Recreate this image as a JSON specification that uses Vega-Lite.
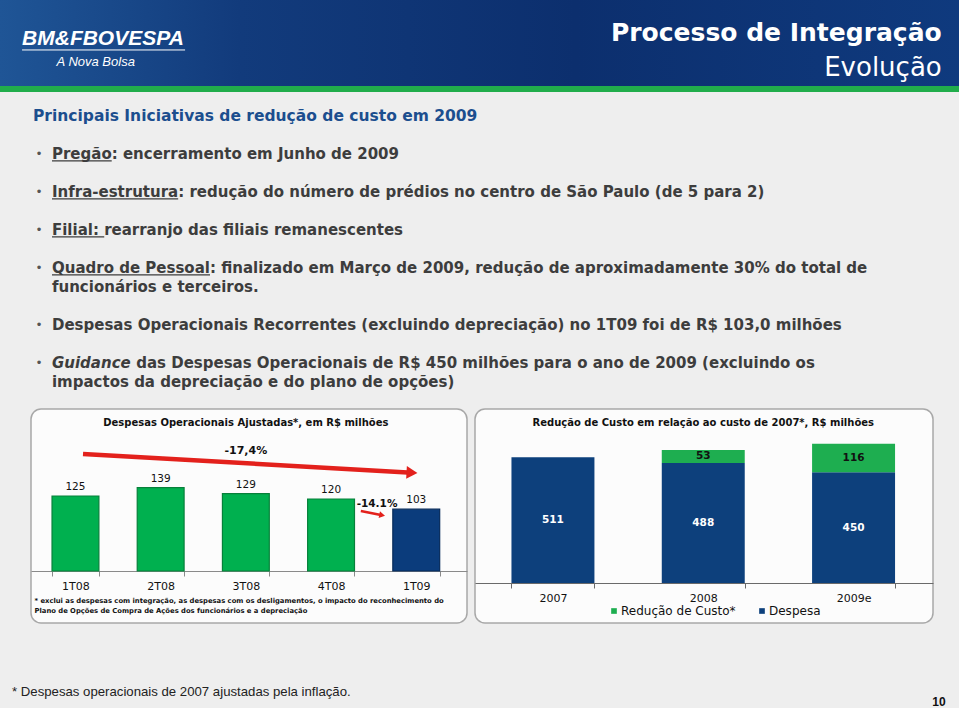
{
  "$schema": "https://vega.github.io/schema/vega-lite/v6.json",
  "background": "#eeeeee",
  "padding": 0,
  "spacing": 0,
  "config": {"view": {"stroke": null}, "font": "DejaVu Sans"},
  "vconcat": [
    {
      "width": 959, "height": 86,
      "view": {"fill": {"gradient": "linear", "x1": 0, "y1": 0, "x2": 1, "y2": 0, "stops": [{"offset": 0, "color": "#1f5596"}, {"offset": 0.25, "color": "#123b7c"}, {"offset": 0.6, "color": "#0c2f6e"}, {"offset": 1, "color": "#0f3a7e"}]}},
      "layer": [
        {"data": {"values": [{"t": "Processo de Integração"}]},
         "mark": {"type": "text", "font": "DejaVu Sans", "fontSize": 25, "fontWeight": "bold", "color": "#ffffff", "align": "right", "baseline": "alphabetic"},
         "encoding": {"x": {"datum": 98.2, "type": "quantitative", "scale": {"domain": [0, 100], "nice": false, "zero": false}, "axis": null},
                      "y": {"datum": 47.7, "type": "quantitative", "scale": {"domain": [0, 100], "nice": false, "zero": false, "reverse": true}, "axis": null},
                      "text": {"field": "t"}}},
        {"data": {"values": [{"t": "Evolução"}]},
         "mark": {"type": "text", "font": "DejaVu Sans", "fontSize": 26, "color": "#ffffff", "align": "right", "baseline": "alphabetic"},
         "encoding": {"x": {"datum": 98.2, "type": "quantitative", "scale": {"domain": [0, 100], "nice": false, "zero": false}, "axis": null},
                      "y": {"datum": 88.4, "type": "quantitative", "scale": {"domain": [0, 100], "nice": false, "zero": false, "reverse": true}, "axis": null},
                      "text": {"field": "t"}}},
        {"data": {"values": [{"t": "BM&FBOVESPA"}]},
         "mark": {"type": "text", "font": "Liberation Sans", "fontSize": 21, "fontWeight": "bold", "fontStyle": "italic", "color": "#ffffff", "align": "left", "baseline": "alphabetic"},
         "encoding": {"x": {"datum": 2.3, "type": "quantitative", "scale": {"domain": [0, 100], "nice": false, "zero": false}, "axis": null},
                      "y": {"datum": 52.3, "type": "quantitative", "scale": {"domain": [0, 100], "nice": false, "zero": false, "reverse": true}, "axis": null},
                      "text": {"field": "t"}}},
        {"data": {"values": [{"t": "A Nova Bolsa"}]},
         "mark": {"type": "text", "font": "Liberation Sans", "fontSize": 13, "fontStyle": "italic", "color": "#ffffff", "align": "left", "baseline": "alphabetic"},
         "encoding": {"x": {"datum": 5.9, "type": "quantitative", "scale": {"domain": [0, 100], "nice": false, "zero": false}, "axis": null},
                      "y": {"datum": 76.7, "type": "quantitative", "scale": {"domain": [0, 100], "nice": false, "zero": false, "reverse": true}, "axis": null},
                      "text": {"field": "t"}}},
        {"data": {"values": [{"t": "logo"}]},
         "mark": {"type": "rule", "color": "#ffffff", "strokeWidth": 1},
         "encoding": {"x": {"datum": 2.3, "type": "quantitative", "scale": {"domain": [0, 100], "nice": false, "zero": false}, "axis": null},
                      "x2": {"datum": 19.3},
                      "y": {"datum": 58.1, "type": "quantitative", "scale": {"domain": [0, 100], "nice": false, "zero": false, "reverse": true}, "axis": null}}}
      ]
    },
    {
      "width": 959, "height": 6,
      "view": {"fill": "#21ad4b"},
      "data": {"values": []},
      "mark": "point"
    },
    {
      "width": 959, "height": 316,
      "layer": [
        {"data": {"values": [{"t": "Principais Iniciativas de redução de custo em 2009"}]},
         "mark": {"type": "text", "fontSize": 15.5, "fontWeight": "bold", "color": "#1c4e8e", "align": "left", "baseline": "middle"},
         "encoding": {"x": {"datum": 3.44, "type": "quantitative", "scale": {"domain": [0, 100], "nice": false, "zero": false}, "axis": null},
                      "y": {"datum": 0, "type": "quantitative", "scale": {"domain": [-1.263, 15.368], "nice": false, "zero": false, "reverse": true}, "axis": null},
                      "text": {"field": "t"}}},
        {"data": {"values": [{"k": 2}, {"k": 4}, {"k": 6}, {"k": 8}, {"k": 11}, {"k": 13}]},
         "mark": {"type": "text", "fontSize": 12, "color": "#555555", "align": "center", "baseline": "middle", "text": "•"},
         "encoding": {"x": {"datum": 4.07, "type": "quantitative", "scale": {"domain": [0, 100], "nice": false, "zero": false}, "axis": null},
                      "y": {"field": "k", "type": "quantitative", "scale": {"domain": [-1.263, 15.368], "nice": false, "zero": false, "reverse": true}, "axis": null}}},
        {"data": {"values": [
            {"k": 2, "t": "Pregão: encerramento em Junho de 2009"},
            {"k": 4, "t": "Infra-estrutura: redução do número de prédios no centro de São Paulo (de 5 para 2)"},
            {"k": 6, "t": "Filial:  rearranjo das filiais remanescentes"},
            {"k": 8, "t": "Quadro de Pessoal: finalizado em Março de 2009, redução de aproximadamente 30%  do total de"},
            {"k": 9, "t": "funcionários e terceiros."},
            {"k": 11, "t": "Despesas Operacionais Recorrentes (excluindo depreciação) no 1T09 foi de R$ 103,0 milhões"},
            {"k": 14, "t": "impactos da depreciação e do plano de opções)"}
          ]},
         "mark": {"type": "text", "fontSize": 15, "fontWeight": "bold", "color": "#3d3d3d", "align": "left", "baseline": "middle"},
         "encoding": {"x": {"datum": 5.42, "type": "quantitative", "scale": {"domain": [0, 100], "nice": false, "zero": false}, "axis": null},
                      "y": {"field": "k", "type": "quantitative", "scale": {"domain": [-1.263, 15.368], "nice": false, "zero": false, "reverse": true}, "axis": null},
                      "text": {"field": "t"}}},
        {"data": {"values": [{"k": 13, "t": "Guidance"}]},
         "mark": {"type": "text", "fontSize": 15, "fontWeight": "bold", "fontStyle": "italic", "color": "#3d3d3d", "align": "left", "baseline": "middle"},
         "encoding": {"x": {"datum": 5.42, "type": "quantitative", "scale": {"domain": [0, 100], "nice": false, "zero": false}, "axis": null},
                      "y": {"field": "k", "type": "quantitative", "scale": {"domain": [-1.263, 15.368], "nice": false, "zero": false, "reverse": true}, "axis": null},
                      "text": {"field": "t"}}},
        {"data": {"values": [{"k": 13, "t": "das Despesas Operacionais de R$ 450 milhões para o ano de 2009 (excluindo os"}]},
         "mark": {"type": "text", "fontSize": 15, "fontWeight": "bold", "color": "#3d3d3d", "align": "left", "baseline": "middle"},
         "encoding": {"x": {"datum": 14.2, "type": "quantitative", "scale": {"domain": [0, 100], "nice": false, "zero": false}, "axis": null},
                      "y": {"field": "k", "type": "quantitative", "scale": {"domain": [-1.263, 15.368], "nice": false, "zero": false, "reverse": true}, "axis": null},
                      "text": {"field": "t"}}},
        {"data": {"values": [{"u": "Pregão"}]},
         "mark": {"type": "rule", "color": "#3d3d3d", "strokeWidth": 1.2},
         "encoding": {"x": {"datum": 5.42, "type": "quantitative", "scale": {"domain": [0, 100], "nice": false, "zero": false}, "axis": null},
                      "x2": {"datum": 11.65},
                      "y": {"datum": 2.36, "type": "quantitative", "scale": {"domain": [-1.263, 15.368], "nice": false, "zero": false, "reverse": true}, "axis": null}}},
        {"data": {"values": [{"u": "Infra-estrutura"}]},
         "mark": {"type": "rule", "color": "#3d3d3d", "strokeWidth": 1.2},
         "encoding": {"x": {"datum": 5.42, "type": "quantitative", "scale": {"domain": [0, 100], "nice": false, "zero": false}, "axis": null},
                      "x2": {"datum": 18.58},
                      "y": {"datum": 4.36, "type": "quantitative", "scale": {"domain": [-1.263, 15.368], "nice": false, "zero": false, "reverse": true}, "axis": null}}},
        {"data": {"values": [{"u": "Filial"}]},
         "mark": {"type": "rule", "color": "#3d3d3d", "strokeWidth": 1.2},
         "encoding": {"x": {"datum": 5.42, "type": "quantitative", "scale": {"domain": [0, 100], "nice": false, "zero": false}, "axis": null},
                      "x2": {"datum": 10.87},
                      "y": {"datum": 6.36, "type": "quantitative", "scale": {"domain": [-1.263, 15.368], "nice": false, "zero": false, "reverse": true}, "axis": null}}},
        {"data": {"values": [{"u": "Quadro de Pessoal"}]},
         "mark": {"type": "rule", "color": "#3d3d3d", "strokeWidth": 1.2},
         "encoding": {"x": {"datum": 5.42, "type": "quantitative", "scale": {"domain": [0, 100], "nice": false, "zero": false}, "axis": null},
                      "x2": {"datum": 21.9},
                      "y": {"datum": 8.36, "type": "quantitative", "scale": {"domain": [-1.263, 15.368], "nice": false, "zero": false, "reverse": true}, "axis": null}}}
      ]
    },
    {
      "spacing": 6,
      "hconcat": [
        {"width": 24, "height": 214, "data": {"values": []}, "mark": "point"},
        {
          "width": 436, "height": 214,
          "view": {"fill": "#fcfcfc", "stroke": "#a8a8a8", "strokeWidth": 1.5, "cornerRadius": 10},
          "resolve": {"scale": {"x": "independent"}},
          "layer": [
            {
              "layer": [
                {"data": {"values": [
                    {"q": "1T08", "v": 125, "p": "2008"},
                    {"q": "2T08", "v": 139, "p": "2008"},
                    {"q": "3T08", "v": 129, "p": "2008"},
                    {"q": "4T08", "v": 120, "p": "2008"},
                    {"q": "1T09", "v": 103, "p": "2009"}
                  ]},
                 "mark": {"type": "bar", "strokeWidth": 1.2},
                 "encoding": {
                   "x": {"field": "q", "type": "nominal", "sort": null,
                         "scale": {"domain": ["1T08", "2T08", "3T08", "4T08", "1T09"], "paddingInner": 0.45, "paddingOuter": 0.2837, "align": 0.435},
                         "axis": {"orient": "bottom", "offset": -52, "labelAngle": 0, "labelFont": "DejaVu Sans", "labelFontSize": 11, "labelColor": "#111111", "labelPadding": 4.5,
                                  "tickBand": "extent", "tickSize": 5, "tickColor": "#8a8a8a", "domainColor": "#8a8a8a", "domainWidth": 1,
                                  "title": ["* exclui as despesas com integração, as despesas com os desligamentos, o impacto do reconhecimento do", "Plano de Opções de Compra de Ações dos funcionários e a depreciação"],
                                  "titleFont": "DejaVu Sans", "titleFontSize": 6.8, "titleFontWeight": "bold", "titleColor": "#111111", "titleAnchor": "start", "titleAlign": "left", "titleX": 3, "titlePadding": 6, "titleLineHeight": 10}},
                   "y": {"field": "v", "type": "quantitative", "scale": {"domain": [-86.67, 270], "nice": false, "zero": false}, "axis": null},
                   "color": {"field": "p", "type": "nominal", "scale": {"domain": ["2008", "2009"], "range": ["#00b04f", "#0b3c7c"]}, "legend": null},
                   "stroke": {"field": "p", "type": "nominal", "scale": {"domain": ["2008", "2009"], "range": ["#07803a", "#062a5a"]}, "legend": null}
                 }},
                {"data": {"values": [
                    {"q": "1T08", "v": 125},
                    {"q": "2T08", "v": 139},
                    {"q": "3T08", "v": 129},
                    {"q": "4T08", "v": 120},
                    {"q": "1T09", "v": 103}
                  ]},
                 "mark": {"type": "text", "fontSize": 10.5, "color": "#111111", "baseline": "middle", "dy": -9},
                 "encoding": {
                   "x": {"field": "q", "type": "nominal", "sort": null},
                   "y": {"field": "v", "type": "quantitative", "scale": {"domain": [-86.67, 270], "nice": false, "zero": false}, "axis": null},
                   "text": {"field": "v"}
                 }},
                {"data": {"values": [{"t": "Despesas Operacionais Ajustadas*, em R$ milhões"}]},
                 "mark": {"type": "text", "fontSize": 10, "fontWeight": "bold", "color": "#111111", "baseline": "middle"},
                 "encoding": {
                   "x": {"datum": "3T08", "type": "nominal"},
                   "y": {"datum": 246.7, "type": "quantitative", "scale": {"domain": [-86.67, 270], "nice": false, "zero": false}, "axis": null},
                   "text": {"field": "t"}
                 }},
                {"data": {"values": [{"t": "-17,4%"}]},
                 "mark": {"type": "text", "fontSize": 11, "fontWeight": "bold", "color": "#111111", "baseline": "middle"},
                 "encoding": {
                   "x": {"datum": "3T08", "type": "nominal"},
                   "y": {"datum": 200, "type": "quantitative", "scale": {"domain": [-86.67, 270], "nice": false, "zero": false}, "axis": null},
                   "text": {"field": "t"}
                 }}
              ]
            },
            {
              "layer": [
                {"data": {"values": [{"x": 0.089, "y": 195}, {"x": 3.95, "y": 163.8}]},
                 "mark": {"type": "line", "color": "#e3211c", "strokeWidth": 4.5, "strokeCap": "butt"},
                 "encoding": {
                   "x": {"field": "x", "type": "quantitative", "scale": {"domain": [-0.5215, 4.596], "nice": false, "zero": false}, "axis": null},
                   "y": {"field": "y", "type": "quantitative", "scale": {"domain": [-86.67, 270], "nice": false, "zero": false}, "axis": null}
                 }},
                {"data": {"values": [{"x": 3.95, "y": 163.8}]},
                 "mark": {"type": "point", "shape": "triangle-right", "filled": true, "color": "#e3211c", "size": 160, "angle": 3.2, "opacity": 1},
                 "encoding": {
                   "x": {"field": "x", "type": "quantitative", "scale": {"domain": [-0.5215, 4.596], "nice": false, "zero": false}, "axis": null},
                   "y": {"field": "y", "type": "quantitative", "scale": {"domain": [-86.67, 270], "nice": false, "zero": false}, "axis": null}
                 }},
                {"data": {"values": [{"x": 3.35, "y": 100}, {"x": 3.6, "y": 93}]},
                 "mark": {"type": "line", "color": "#e3211c", "strokeWidth": 2.5, "strokeCap": "butt"},
                 "encoding": {
                   "x": {"field": "x", "type": "quantitative", "scale": {"domain": [-0.5215, 4.596], "nice": false, "zero": false}, "axis": null},
                   "y": {"field": "y", "type": "quantitative", "scale": {"domain": [-86.67, 270], "nice": false, "zero": false}, "axis": null}
                 }},
                {"data": {"values": [{"x": 3.6, "y": 93}]},
                 "mark": {"type": "point", "shape": "triangle-right", "filled": true, "color": "#e3211c", "size": 45, "angle": 11.3, "opacity": 1},
                 "encoding": {
                   "x": {"field": "x", "type": "quantitative", "scale": {"domain": [-0.5215, 4.596], "nice": false, "zero": false}, "axis": null},
                   "y": {"field": "y", "type": "quantitative", "scale": {"domain": [-86.67, 270], "nice": false, "zero": false}, "axis": null}
                 }},
                {"data": {"values": [{"t": "-14.1%", "x": 3.54, "y": 111.7}]},
                 "mark": {"type": "text", "fontSize": 10.5, "fontWeight": "bold", "color": "#111111", "baseline": "middle"},
                 "encoding": {
                   "x": {"field": "x", "type": "quantitative", "scale": {"domain": [-0.5215, 4.596], "nice": false, "zero": false}, "axis": null},
                   "y": {"field": "y", "type": "quantitative", "scale": {"domain": [-86.67, 270], "nice": false, "zero": false}, "axis": null},
                   "text": {"field": "t"}
                 }}
              ]
            }
          ]
        },
        {
          "width": 458, "height": 214,
          "view": {"fill": "#fcfcfc", "stroke": "#a8a8a8", "strokeWidth": 1.5, "cornerRadius": 10},
          "resolve": {"scale": {"color": "independent"}, "legend": {"color": "independent"}},
          "layer": [
            {"data": {"values": [
                {"yr": "2007", "s": "Despesa", "v": 511},
                {"yr": "2008", "s": "Despesa", "v": 488},
                {"yr": "2008", "s": "Redução de Custo*", "v": 53},
                {"yr": "2009e", "s": "Despesa", "v": 450},
                {"yr": "2009e", "s": "Redução de Custo*", "v": 116}
              ]},
             "mark": {"type": "bar"},
             "encoding": {
               "x": {"field": "yr", "type": "nominal", "sort": null,
                     "scale": {"domain": ["2007", "2008", "2009e"], "paddingInner": 0.448, "paddingOuter": 0.2475, "align": 0.49},
                     "axis": {"orient": "bottom", "offset": -40, "labelAngle": 0, "labelFont": "DejaVu Sans", "labelFontSize": 11, "labelColor": "#111111", "labelPadding": 4.5,
                              "tickBand": "extent", "tickSize": 5, "tickColor": "#6a6a6a", "domainColor": "#6a6a6a", "domainWidth": 1, "title": null}},
               "y": {"field": "v", "type": "quantitative", "stack": "zero", "scale": {"domain": [-162.6, 707.3], "nice": false, "zero": false}, "axis": null},
               "color": {"field": "s", "type": "nominal", "scale": {"domain": ["Redução de Custo*", "Despesa"], "range": ["#1eae50", "#0d407c"]},
                         "legend": {"orient": "none", "legendX": 133, "legendY": 196, "direction": "horizontal", "title": null, "symbolType": "square", "symbolSize": 32, "symbolStrokeWidth": 0,
                                    "labelFont": "DejaVu Sans", "labelFontSize": 12, "labelColor": "#111111", "labelOffset": 1, "columnPadding": 20, "padding": 0}},
               "order": {"field": "s", "sort": "ascending"}
             }},
            {"data": {"values": [
                {"yr": "2007", "s": "Despesa", "v": 511},
                {"yr": "2008", "s": "Despesa", "v": 488},
                {"yr": "2008", "s": "Redução de Custo*", "v": 53},
                {"yr": "2009e", "s": "Despesa", "v": 450},
                {"yr": "2009e", "s": "Redução de Custo*", "v": 116}
              ]},
             "mark": {"type": "text", "fontSize": 10.5, "fontWeight": "bold", "baseline": "middle"},
             "encoding": {
               "x": {"field": "yr", "type": "nominal", "sort": null},
               "y": {"field": "v", "type": "quantitative", "stack": "zero", "bandPosition": 0.5, "scale": {"domain": [-162.6, 707.3], "nice": false, "zero": false}, "axis": null},
               "order": {"field": "s", "sort": "ascending"},
               "text": {"field": "v"},
               "color": {"field": "s", "type": "nominal", "scale": {"domain": ["Redução de Custo*", "Despesa"], "range": ["#111111", "#ffffff"]}, "legend": null}
             }},
            {"data": {"values": [{"t": "Redução de Custo em relação ao custo de 2007*, R$ milhões"}]},
             "mark": {"type": "text", "fontSize": 10, "fontWeight": "bold", "color": "#111111", "baseline": "middle"},
             "encoding": {
               "x": {"datum": "2008", "type": "nominal"},
               "y": {"datum": 650.4, "type": "quantitative", "scale": {"domain": [-162.6, 707.3], "nice": false, "zero": false}, "axis": null},
               "text": {"field": "t"}
             }}
          ]
        }
      ]
    },
    {
      "width": 959, "height": 86,
      "layer": [
        {"data": {"values": [{"t": "* Despesas operacionais de 2007 ajustadas pela inflação."}]},
         "mark": {"type": "text", "font": "Liberation Sans Narrow, Liberation Sans", "fontSize": 13.2, "color": "#222222", "align": "left", "baseline": "middle"},
         "encoding": {"x": {"datum": 1.25, "type": "quantitative", "scale": {"domain": [0, 100], "nice": false, "zero": false}, "axis": null},
                      "y": {"datum": 79, "type": "quantitative", "scale": {"domain": [0, 100], "nice": false, "zero": false, "reverse": true}, "axis": null},
                      "text": {"field": "t"}}},
        {"data": {"values": [{"t": "10"}]},
         "mark": {"type": "text", "font": "Liberation Sans", "fontSize": 12, "fontWeight": "bold", "color": "#111111", "align": "right", "baseline": "middle"},
         "encoding": {"x": {"datum": 98.6, "type": "quantitative", "scale": {"domain": [0, 100], "nice": false, "zero": false}, "axis": null},
                      "y": {"datum": 91, "type": "quantitative", "scale": {"domain": [0, 100], "nice": false, "zero": false, "reverse": true}, "axis": null},
                      "text": {"field": "t"}}}
      ]
    }
  ]
}
